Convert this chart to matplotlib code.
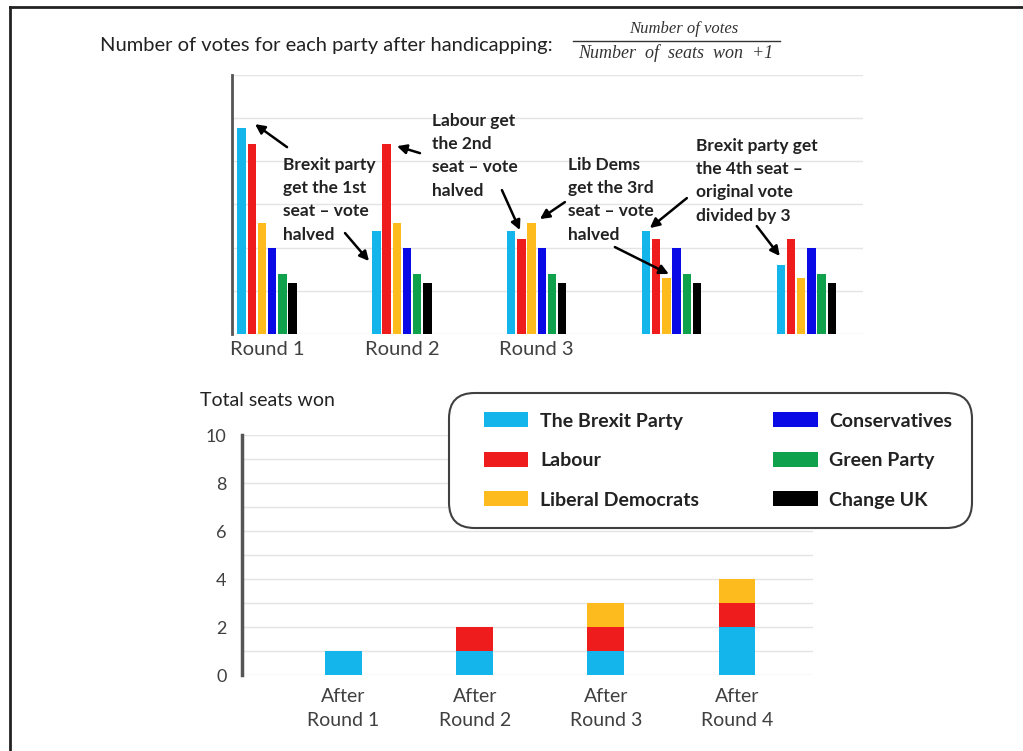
import matplotlib
matplotlib.use('Agg')
from matplotlib import pyplot as plt
from matplotlib.patches import Patch, FancyBboxPatch
from matplotlib.lines import Line2D
import numpy as np

# parties and colours
parties = ['The Brexit Party', 'Labour', 'Liberal Democrats',
           'Conservatives', 'Green Party', 'Change UK']
colors = ['#13B5EA', '#EE1C1C', '#FDBB1E', '#0A0AE6', '#0FA14B', '#000000']

# top chart: handicapped votes per round (arbitrary units)
round_labels = ['Round 1', 'Round 2', 'Round 3', '', '']
votes_r1 = [4.78, 4.39, 2.58, 1.99, 1.40, 1.19]
votes_r2 = [2.39, 4.39, 2.58, 1.99, 1.40, 1.19]
votes_r3 = [2.39, 2.20, 2.58, 1.99, 1.40, 1.19]
votes_r4 = [2.39, 2.20, 1.29, 1.99, 1.40, 1.19]
votes_r5 = [1.59, 2.20, 1.29, 1.99, 1.40, 1.19]

# bottom chart: seats won
seat_labels = ['After\nRound 1', 'After\nRound 2', 'After\nRound 3', 'After\nRound 4']
brexit_seats = [1, 1, 1, 2]
labour_seats = [0, 1, 1, 1]
libdem_seats = [0, 0, 1, 1]

plt.rcParams['font.family'] = ['Lato', 'DejaVu Sans']
txt_col = '#404040'

fig = plt.figure(figsize=(10.23, 7.51), dpi=100)

def fx(px):
    return px / 1023

def fy(py):
    return 1 - py / 751

# ---------- top chart ----------
ax1 = fig.add_axes([fx(232), fy(334), fx(863) - fx(232), fy(75) - fy(334)])
rounds = [votes_r1, votes_r2, votes_r3, votes_r4, votes_r5]
x = np.arange(len(rounds))
slot = 0.0757
for i in range(len(parties)):
    vals = [r[i] for r in rounds]
    ax1.bar(x + (i - 2.5) * slot, vals, width=slot * 0.82, color=colors[i], zorder=3)

ax1.set_xlim(-0.26, 4.42)
ax1.set_ylim(0, 6)
ax1.set_yticks(range(7))
ax1.set_yticklabels([])
ax1.set_xticks(x)
ax1.set_xticklabels(round_labels, fontsize=14.5, color=txt_col)
ax1.tick_params(length=0, pad=5)
ax1.grid(axis='y', color='#E4E4E4', lw=1)
for s in ['top', 'right', 'bottom']:
    ax1.spines[s].set_visible(False)
ax1.spines['left'].set_color('#555555')
ax1.spines['left'].set_linewidth(2)

def dx(px):
    return (px - 267) / 134.9

def dy(py):
    return (334 - py) / 43.2

notes = [
    ('Brexit party\nget the 1st\nseat \u2013 vote\nhalved', 283, 157,
     [((287, 147), (255, 124)), ((345, 233), (369, 261))]),
    ('Labour get\nthe 2nd\nseat \u2013 vote\nhalved', 432, 113,
     [((420, 153), (397, 146)), ((502, 190), (520, 230))]),
    ('Lib Dems\nget the 3rd\nseat \u2013 vote\nhalved', 568, 157,
     [((565, 202), (540, 219)), ((615, 247), (669, 274))]),
    ('Brexit party get\nthe 4th seat \u2013\noriginal vote\ndivided by 3', 696, 138,
     [((687, 198), (650, 228)), ((757, 226), (780, 256))]),
]
for text, tx, ty, arrows in notes:
    ax1.text(dx(tx), dy(ty), text, fontsize=12.5, fontweight='bold',
             color='#222222', va='top', ha='left', linespacing=1.55, zorder=5)
    for (t0, t1) in arrows:
        ax1.annotate('', xy=(dx(t1[0]), dy(t1[1])), xytext=(dx(t0[0]), dy(t0[1])),
                     arrowprops=dict(arrowstyle='-|>', color='black', lw=1.8,
                                     mutation_scale=14, shrinkA=0, shrinkB=0),
                     zorder=6)

# title with fraction
fig.text(fx(100), fy(46), 'Number of votes for each party after handicapping:',
         fontsize=14.5, color='#222222', va='center', ha='left')
fig.text(fx(684), fy(29), 'Number of votes', fontsize=12, style='italic',
         family='Liberation Serif', color='#333333', ha='center', va='center')
fig.text(fx(676), fy(53), 'Number  of  seats  won  +1', fontsize=13, style='italic',
         family='Liberation Serif', color='#333333', ha='center', va='center')
fig.add_artist(Line2D([fx(573), fx(780)], [fy(41), fy(41)], color='#333333', lw=1))

# ---------- bottom chart ----------
ax2 = fig.add_axes([fx(242), fy(675), fx(813) - fx(242), fy(435) - fy(675)])
xs = np.arange(len(seat_labels))
bw = 0.28
ax2.bar(xs, brexit_seats, width=bw, color=colors[0], zorder=3)
ax2.bar(xs, labour_seats, width=bw, bottom=brexit_seats, color=colors[1], zorder=3)
base = [a + b for a, b in zip(brexit_seats, labour_seats)]
ax2.bar(xs, libdem_seats, width=bw, bottom=base, color=colors[2], zorder=3)

ax2.set_xlim(-0.775, 3.58)
ax2.set_ylim(0, 10)
ax2.set_yticks(range(11))
ax2.set_yticklabels([str(v) if v % 2 == 0 else '' for v in range(11)],
                    fontsize=13, color=txt_col)
ax2.set_xticks(xs)
ax2.set_xticklabels(seat_labels, fontsize=14, color=txt_col, linespacing=1.55)
ax2.tick_params(length=0)
ax2.tick_params(axis='y', pad=11)
ax2.tick_params(axis='x', pad=9)
ax2.grid(axis='y', color='#E4E4E4', lw=1)
for s in ['top', 'right', 'bottom']:
    ax2.spines[s].set_visible(False)
ax2.spines['left'].set_color('#555555')
ax2.spines['left'].set_linewidth(2.5)

fig.text(fx(200), fy(401), 'Total seats won', fontsize=14, color='#222222',
         ha='left', va='center')

# legend box drawn separately so the padding can be set freely
box = FancyBboxPatch((fx(449), fy(528)), fx(972) - fx(449), fy(393) - fy(528),
                     boxstyle='round,pad=0,rounding_size=0.025',
                     transform=fig.transFigure, facecolor='white',
                     edgecolor='#404040', lw=1.5, zorder=4,
                     mutation_aspect=1023 / 751)
fig.add_artist(box)

handles = [Patch(facecolor=c) for c in colors]
leg = fig.legend(handles, parties, ncol=2, loc='center', mode='expand',
                 bbox_to_anchor=(fx(474), fy(528), fx(962) - fx(474), fy(393) - fy(528)),
                 prop={'weight': 'bold', 'size': 14}, handlelength=2.3,
                 handleheight=0.8, handletextpad=0.6, labelspacing=1.15,
                 borderpad=0, frameon=False)
leg.set_zorder(5)
for t in leg.get_texts():
    t.set_color('#222222')

# image frame lines (top and left)
fig.add_artist(Line2D([fx(10), 1], [fy(7), fy(7)], color='#222222', lw=2))
fig.add_artist(Line2D([fx(10), fx(10)], [0, fy(7)], color='#222222', lw=2))

fig.savefig('out.png', dpi=100)
